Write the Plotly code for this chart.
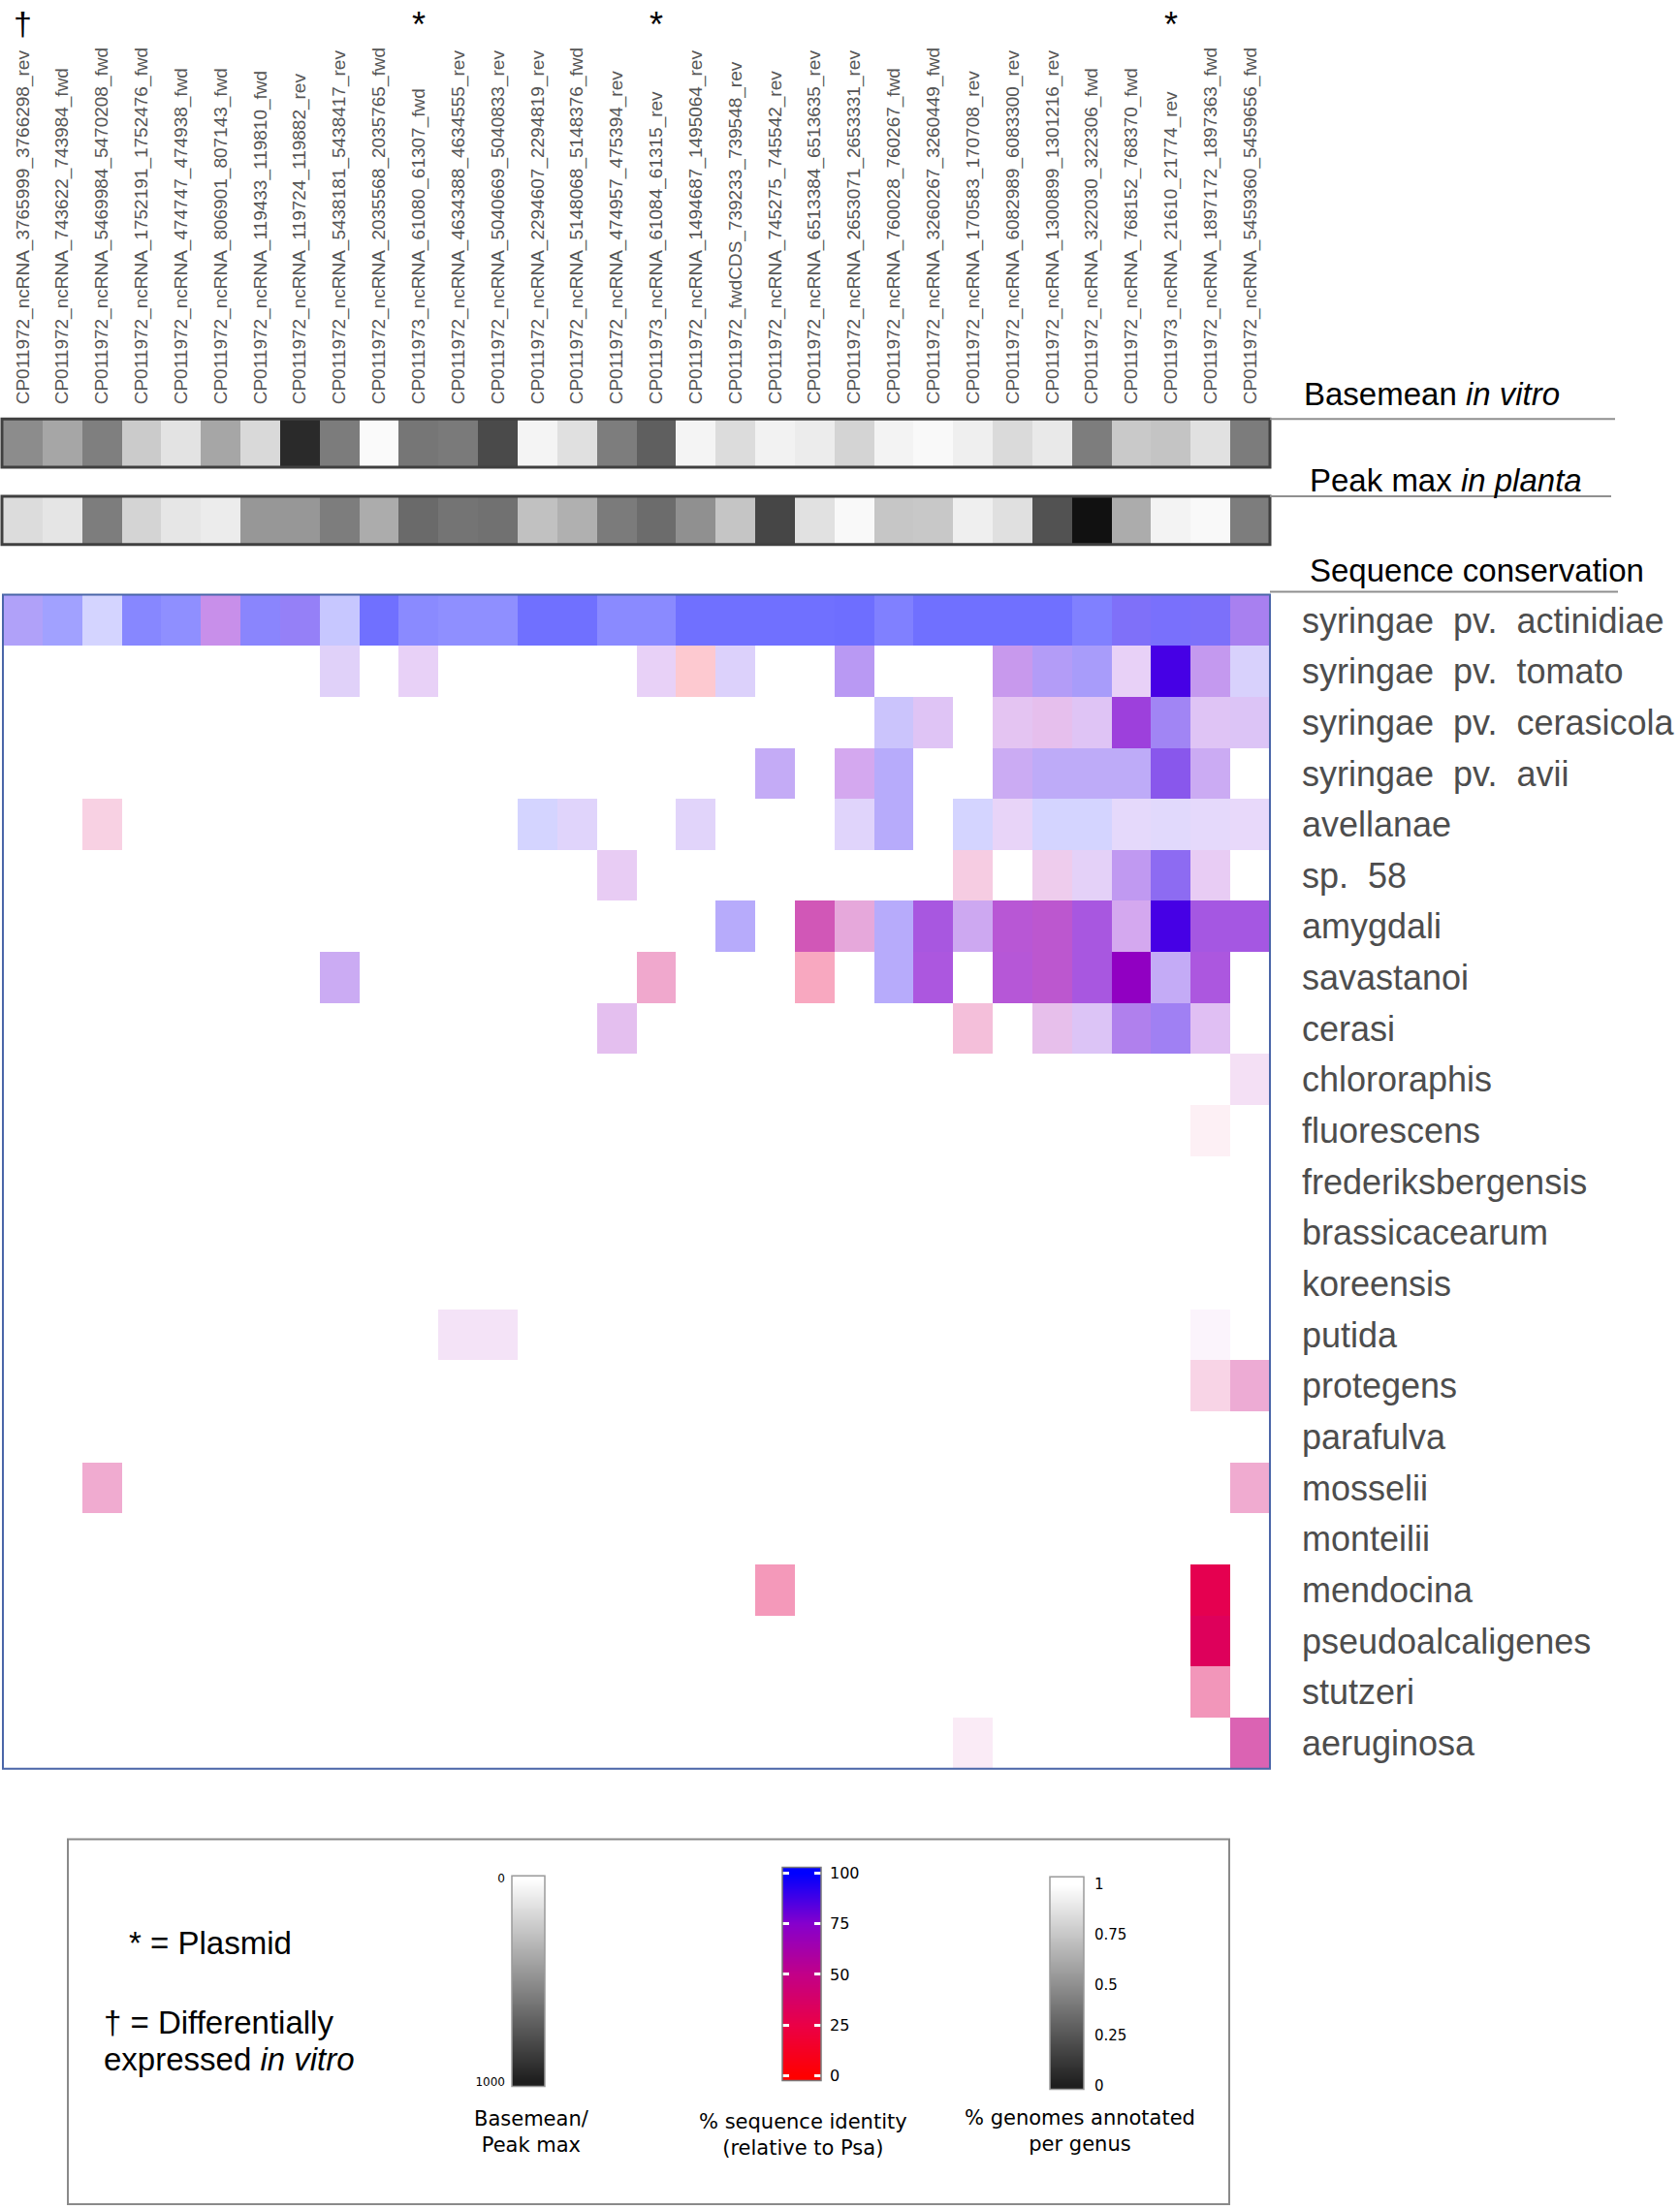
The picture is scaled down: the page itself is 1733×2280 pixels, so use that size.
import plotly.graph_objects as go

W, H = 1733, 2280


def X(px):
    return px / W


def Y(py):
    return 1 - py / H


# ---------------- data ----------------
columns = [
    "CP011972_ncRNA_3765999_3766298_rev", "CP011972_ncRNA_743622_743984_fwd",
    "CP011972_ncRNA_5469984_5470208_fwd", "CP011972_ncRNA_1752191_1752476_fwd",
    "CP011972_ncRNA_474747_474938_fwd", "CP011972_ncRNA_806901_807143_fwd",
    "CP011972_ncRNA_119433_119810_fwd", "CP011972_ncRNA_119724_119882_rev",
    "CP011972_ncRNA_5438181_5438417_rev", "CP011972_ncRNA_2035568_2035765_fwd",
    "CP011973_ncRNA_61080_61307_fwd", "CP011972_ncRNA_4634388_4634555_rev",
    "CP011972_ncRNA_5040669_5040833_rev", "CP011972_ncRNA_2294607_2294819_rev",
    "CP011972_ncRNA_5148068_5148376_fwd", "CP011972_ncRNA_474957_475394_rev",
    "CP011973_ncRNA_61084_61315_rev", "CP011972_ncRNA_1494687_1495064_rev",
    "CP011972_fwdCDS_739233_739548_rev", "CP011972_ncRNA_745275_745542_rev",
    "CP011972_ncRNA_6513384_6513635_rev", "CP011972_ncRNA_2653071_2653331_rev",
    "CP011972_ncRNA_760028_760267_fwd", "CP011972_ncRNA_3260267_3260449_fwd",
    "CP011972_ncRNA_170583_170708_rev", "CP011972_ncRNA_6082989_6083300_rev",
    "CP011972_ncRNA_1300899_1301216_rev", "CP011972_ncRNA_322030_322306_fwd",
    "CP011972_ncRNA_768152_768370_fwd", "CP011973_ncRNA_21610_21774_rev",
    "CP011972_ncRNA_1897172_1897363_fwd", "CP011972_ncRNA_5459360_5459656_fwd",
]
plasmid_cols = [10, 16, 29]
diff_expressed_cols = [0]

sp2 = "\u00a0\u00a0"
species = [
    f"syringae{sp2}pv.{sp2}actinidiae", f"syringae{sp2}pv.{sp2}tomato",
    f"syringae{sp2}pv.{sp2}cerasicola", f"syringae{sp2}pv.{sp2}avii",
    "avellanae", f"sp.{sp2}58", "amygdali", "savastanoi", "cerasi",
    "chlororaphis", "fluorescens", "frederiksbergensis", "brassicacearum",
    "koreensis", "putida", "protegens", "parafulva", "mosselii", "monteilii",
    "mendocina", "pseudoalcaligenes", "stutzeri", "aeruginosa",
]

basemean_in_vitro = [451, 349, 502, 204, 110, 349, 149, 835, 514, 20, 537, 522, 710, 43, 122, 510,
                     627, 43, 137, 51, 75, 169, 47, 24, 63, 145, 86, 510, 212, 231, 118, 514]
peak_max_in_planta = [137, 102, 510, 169, 98, 75, 408, 408, 510, 325, 584, 545, 557, 243, 310, 518,
                      576, 435, 227, 725, 118, 24, 224, 216, 63, 122, 678, 933, 325, 47, 24, 510]

N = None
# % sequence identity (relative to Psa); None = not annotated
identity = [
    [92, 100, 100, 100, 100, 76, 98, 92, 100, 100, 100, 100, 100, 100, 100, 100, 100, 100, 100, 100, 100, 100, 100, 100, 100, 100, 100, 100, 95, 97, 96, 85],
    [N, N, N, N, N, N, N, N, 84, N, 76, N, N, N, N, N, 76, 12, 88, N, N, 85, N, N, N, 78, 89, 94, 76, 87, 80, 92],
    [N, N, N, N, N, N, N, N, N, N, N, N, N, N, N, N, N, N, N, N, N, N, 94, 78, N, 73, 67, 78, 77, 89, 78, 81],
    [N, N, N, N, N, N, N, N, N, N, N, N, N, N, N, N, N, N, N, 86, N, 76, 93, N, N, 82, 89, 89, 89, 86, 82, N],
    [N, N, 36, N, N, N, N, N, N, N, N, N, N, 100, 87, N, N, 85, N, N, N, 87, 93, N, 100, 78, 100, 100, 85, 90, 85, 81],
    [N, N, N, N, N, N, N, N, N, N, N, N, N, N, N, 73, N, N, N, N, N, N, N, N, 41, N, 60, 80, 82, 89, 73, N],
    [N, N, N, N, N, N, N, N, N, N, N, N, N, N, N, N, N, N, 93, N, 54, 55, 93, 77, 80, 70, 67, 77, 76, 87, 78, 78],
    [N, N, N, N, N, N, N, N, 82, N, N, N, N, N, N, N, 40, N, N, N, 25, N, 93, 76, N, 71, 67, 77, 71, 86, 76, N],
    [N, N, N, N, N, N, N, N, N, N, N, N, N, N, N, 70, N, N, N, N, N, N, N, N, 40, N, 64, 81, 82, 88, 76, N],
    [N, N, N, N, N, N, N, N, N, N, N, N, N, N, N, N, N, N, N, N, N, N, N, N, N, N, N, N, N, N, N, 63],
    [N, N, N, N, N, N, N, N, N, N, N, N, N, N, N, N, N, N, N, N, N, N, N, N, N, N, N, N, N, N, 34, N],
    [N] * 32,
    [N] * 32,
    [N] * 32,
    [N, N, N, N, N, N, N, N, N, N, N, 68, 68, N, N, N, N, N, N, N, N, N, N, N, N, N, N, N, N, N, 63, N],
    [N, N, N, N, N, N, N, N, N, N, N, N, N, N, N, N, N, N, N, N, N, N, N, N, N, N, N, N, N, N, 39, 46],
    [N] * 32,
    [N, N, 41, N, N, N, N, N, N, N, N, N, N, N, N, N, N, N, N, N, N, N, N, N, N, N, N, N, N, N, N, 41],
    [N] * 32,
    [N, N, N, N, N, N, N, N, N, N, N, N, N, N, N, N, N, N, N, 30, N, N, N, N, N, N, N, N, N, N, 29, N],
    [N, N, N, N, N, N, N, N, N, N, N, N, N, N, N, N, N, N, N, N, N, N, N, N, N, N, N, N, N, N, 33, N],
    [N, N, N, N, N, N, N, N, N, N, N, N, N, N, N, N, N, N, N, N, N, N, N, N, N, N, N, N, N, N, 32, N],
    [N, N, N, N, N, N, N, N, N, N, N, N, N, N, N, N, N, N, N, N, N, N, N, N, 50, N, N, N, N, N, N, 49],
]
# fraction of genomes annotated per genus (cell opacity)
fraction = [
    [.37, .37, .17, .47, .44, .44, .48, .50, .22, .56, .46, .44, .44, .56, .56, .46, .46, .56, .56, .56, .56, .57, .50, .56, .56, .56, .56, .50, .56, .56, .56, .50],
    [N, N, N, N, N, N, N, N, .18, N, .18, N, N, N, N, N, .18, .21, .18, N, N, .40, N, N, N, .40, .39, .39, .18, 1.0, .40, .18],
    [N, N, N, N, N, N, N, N, N, N, N, N, N, N, N, N, N, N, N, N, N, N, .23, .23, N, .23, .25, .23, .75, .48, .23, .23],
    [N, N, N, N, N, N, N, N, N, N, N, N, N, N, N, N, N, N, N, .33, N, .34, .33, N, N, .33, .33, .33, .33, .66, .33, N],
    [N, N, .18, N, N, N, N, N, N, N, N, N, N, .17, .17, N, N, .17, N, N, N, .17, .33, N, .17, .17, .17, .17, .15, .15, .15, .15],
    [N, N, N, N, N, N, N, N, N, N, N, N, N, N, N, .20, N, N, N, N, N, N, N, N, .20, N, .20, .18, .40, .58, .20, N],
    [N, N, N, N, N, N, N, N, N, N, N, N, N, N, N, N, N, N, .33, N, .66, .34, .33, .66, .34, .66, .66, .66, .34, 1.0, .66, .66],
    [N, N, N, N, N, N, N, N, .33, N, N, N, N, N, N, N, .34, N, N, N, .34, N, .33, .66, N, .66, .66, .66, 1.0, .33, .66, N],
    [N, N, N, N, N, N, N, N, N, N, N, N, N, N, N, .25, N, N, N, N, N, N, N, N, .25, N, .25, .23, .50, .50, .25, N],
    [N, N, N, N, N, N, N, N, N, N, N, N, N, N, N, N, N, N, N, N, N, N, N, N, N, N, N, N, N, N, N, .12],
    [N, N, N, N, N, N, N, N, N, N, N, N, N, N, N, N, N, N, N, N, N, N, N, N, N, N, N, N, N, N, .06, N],
    [N] * 32,
    [N] * 32,
    [N] * 32,
    [N, N, N, N, N, N, N, N, N, N, N, .11, .11, N, N, N, N, N, N, N, N, N, N, N, N, N, N, N, N, N, .045, N],
    [N, N, N, N, N, N, N, N, N, N, N, N, N, N, N, N, N, N, N, N, N, N, N, N, N, N, N, N, N, N, .17, .33],
    [N] * 32,
    [N, N, .33, N, N, N, N, N, N, N, N, N, N, N, N, N, N, N, N, N, N, N, N, N, N, N, N, N, N, N, N, .33],
    [N] * 32,
    [N, N, N, N, N, N, N, N, N, N, N, N, N, N, N, N, N, N, N, .40, N, N, N, N, N, N, N, N, N, N, 1.0, N],
    [N, N, N, N, N, N, N, N, N, N, N, N, N, N, N, N, N, N, N, N, N, N, N, N, N, N, N, N, N, N, 1.0, N],
    [N, N, N, N, N, N, N, N, N, N, N, N, N, N, N, N, N, N, N, N, N, N, N, N, N, N, N, N, N, N, .41, N],
    [N, N, N, N, N, N, N, N, N, N, N, N, N, N, N, N, N, N, N, N, N, N, N, N, .08, N, N, N, N, N, N, .61],
]

# legend keys (tick values of the colour keys)
expr_key = [0, 250, 500, 750, 1000]
identity_key = [0, 25, 50, 75, 100]
fraction_key = [0, 0.25, 0.5, 0.75, 1]
fraction_key_labels = ["0", "0.25", "0.5", "0.75", "1"]

# ---------------- styles ----------------
grey_scale = [[0, "#ffffff"], [1, "#000000"]]
key_grey_scale = [[0, "#ffffff"], [1, "#1e1e1e"]]
identity_scale = [[0, "rgb(255,0,0)"], [0.25, "rgb(235,0,70)"], [0.5, "rgb(195,0,135)"],
                  [0.75, "rgb(135,0,205)"], [1, "rgb(0,0,255)"]]
veil_scale = [[0, "rgba(255,255,255,1)"], [1, "rgba(255,255,255,0)"]]
fraction_key_scale = [[0, "#1e1e1e"], [1, "#ffffff"]]

SANS = "Liberation Sans, Arial, sans-serif"
DJV = "DejaVu Sans, sans-serif"

ncol = len(columns)
nrow = len(species)
xs = list(range(ncol))
ys = list(range(nrow))

fig = go.Figure()

# main identity heatmap + opacity veil
fig.add_trace(go.Heatmap(z=identity, x=xs, y=ys, colorscale=identity_scale, zmin=0, zmax=100,
                         showscale=False, xaxis="x", yaxis="y", hoverongaps=False))
fig.add_trace(go.Heatmap(z=fraction, x=xs, y=ys, colorscale=veil_scale, zmin=0, zmax=1,
                         showscale=False, xaxis="x", yaxis="y", hoverongaps=False))
# expression bars
fig.add_trace(go.Heatmap(z=[basemean_in_vitro], x=xs, y=[0], colorscale=grey_scale, zmin=0, zmax=1000,
                         showscale=False, xaxis="x2", yaxis="y2"))
fig.add_trace(go.Heatmap(z=[peak_max_in_planta], x=xs, y=[0], colorscale=grey_scale, zmin=0, zmax=1000,
                         showscale=False, xaxis="x3", yaxis="y3"))
# legend colour keys
fig.add_trace(go.Heatmap(z=[[v, v] for v in expr_key], x=[0, 1], y=expr_key, colorscale=key_grey_scale,
                         zmin=0, zmax=1000, zsmooth="best", showscale=False, xaxis="x4", yaxis="y4"))
fig.add_trace(go.Heatmap(z=[[v, v] for v in identity_key], x=[0, 1], y=identity_key,
                         colorscale=identity_scale, zmin=0, zmax=100, zsmooth="best", showscale=False,
                         xaxis="x5", yaxis="y5"))
fig.add_trace(go.Heatmap(z=[[v, v] for v in fraction_key], x=[0, 1], y=fraction_key,
                         colorscale=fraction_key_scale, zmin=0, zmax=1, zsmooth="best", showscale=False,
                         xaxis="x6", yaxis="y6"))

hidden = dict(visible=False, showgrid=False, zeroline=False, fixedrange=True)
xdom = [X(3), X(1310)]

layout_axes = dict(
    xaxis=dict(domain=xdom, range=[-0.5, ncol - 0.5], anchor="y", **hidden),
    yaxis=dict(domain=[Y(1828), Y(612)], range=[nrow - 0.5, -0.5], anchor="x", side="right",
               tickmode="array", tickvals=ys, ticktext=species, ticks="", showgrid=False,
               zeroline=False, showline=False, ticklabelstandoff=32,
               tickfont=dict(family=SANS, size=36, color="#4d4d4d")),
    xaxis2=dict(domain=xdom, range=[-0.5, ncol - 0.5], anchor="y2", side="top",
                tickmode="array", tickvals=xs, ticktext=columns, tickangle=-90, ticks="",
                showgrid=False, zeroline=False, showline=False, ticklabelstandoff=14,
                tickfont=dict(family=SANS, size=19, color="#555555")),
    yaxis2=dict(domain=[Y(480), Y(430)], range=[-0.5, 0.5], anchor="x2", **hidden),
    xaxis3=dict(domain=xdom, range=[-0.5, ncol - 0.5], anchor="y3", **hidden),
    yaxis3=dict(domain=[Y(560), Y(510)], range=[-0.5, 0.5], anchor="x3", **hidden),
    xaxis4=dict(domain=[X(528), X(562)], range=[-0.5, 1.5], anchor="y4", **hidden),
    yaxis4=dict(domain=[Y(2157), Y(1939)], range=[1024, -14], anchor="x4", side="left",
                tickmode="array", tickvals=[0, 1000], ticktext=["0", "1000"], ticks="",
                showgrid=False, zeroline=False, ticklabelstandoff=6,
                tickfont=dict(family=DJV, size=12, color="black")),
    xaxis5=dict(domain=[X(807), X(847)], range=[-0.5, 1.5], anchor="y5", **hidden),
    yaxis5=dict(domain=[Y(2151), Y(1930)], range=[-2.4, 102.9], anchor="x5", side="right",
                tickmode="array", tickvals=identity_key, ticks="inside", ticklen=7, tickwidth=3,
                tickcolor="white", mirror="ticks", showgrid=False, zeroline=False,
                ticklabelstandoff=8, tickfont=dict(family=DJV, size=16, color="black")),
    xaxis6=dict(domain=[X(1083), X(1118)], range=[-0.5, 1.5], anchor="y6", **hidden),
    yaxis6=dict(domain=[Y(2160), Y(1940)], range=[-0.019, 1.038], anchor="x6", side="right",
                tickmode="array", tickvals=fraction_key, ticktext=fraction_key_labels, ticks="",
                showgrid=False, zeroline=False, ticklabelstandoff=10,
                tickfont=dict(family=DJV, size=15, color="black")),
)


def rect(x0, y0, x1, y1, color, width):
    return dict(type="rect", xref="paper", yref="paper", x0=X(x0), x1=X(x1), y0=Y(y0), y1=Y(y1),
                line=dict(color=color, width=width), fillcolor="rgba(0,0,0,0)", layer="above")


def hline(x0, x1, y, color="#8f8f8f", width=2):
    return dict(type="line", xref="paper", yref="paper", x0=X(x0), x1=X(x1), y0=Y(y), y1=Y(y),
                line=dict(color=color, width=width), layer="above")


shapes = [
    rect(3, 612, 1310, 1828, "#4a66a8", 2),
    rect(2, 430, 1310, 480, "#404040", 3),
    rect(2, 510, 1310, 560, "#404040", 3),
    hline(1310, 1666, 430),
    hline(1310, 1662, 510),
    hline(1310, 1669, 609),
    rect(70, 1901, 1268, 2279, "#8a8a8a", 2),
    rect(528, 1939, 562, 2157, "#9a9a9a", 1.5),
    rect(807, 1930, 847, 2151, "#7a7a7a", 1.5),
    rect(1083, 1940, 1118, 2160, "#9a9a9a", 1.5),
]


def ann(text, x, y, size, family=SANS, color="black", xanchor="left", yanchor="middle", align="left"):
    return dict(text=text, x=X(x), y=Y(y), xref="paper", yref="paper", showarrow=False,
                font=dict(size=size, family=family, color=color), xanchor=xanchor,
                yanchor=yanchor, align=align)


annotations = []
for c in diff_expressed_cols:
    annotations.append(dict(text="\u2020", x=c, xref="x", y=1, yref="paper", showarrow=False,
                            font=dict(size=34, family=SANS, color="black"), xanchor="center",
                            yanchor="top", borderpad=0))
for c in plasmid_cols:
    annotations.append(dict(text="*", x=c, xref="x", y=1, yref="paper", showarrow=False,
                            font=dict(size=36, family=SANS, color="black"), xanchor="center",
                            yanchor="top", borderpad=0))

annotations += [
    ann("Basemean <i>in vitro</i>", 1343, 404, 33),
    ann("Peak max <i>in planta</i>", 1349, 493, 33),
    ann("Sequence conservation", 1349, 587, 33),
    ann("* = Plasmid", 131, 2008, 33),
    ann("\u2020 = Differentially", 105, 2091, 33),
    ann("expressed <i>in vitro</i>", 105, 2129, 33),
    ann("Basemean/<br>Peak max", 548, 2204, 21, family=DJV, xanchor="center", align="center"),
    ann("% sequence identity<br>(relative to Psa)", 828, 2207, 21, family=DJV, xanchor="center",
        align="center"),
    ann("% genomes annotated<br>per genus", 1114, 2203, 21, family=DJV, xanchor="center",
        align="center"),
]

fig.update_layout(
    width=W, height=H, margin=dict(l=0, r=0, t=0, b=0), autosize=False,
    paper_bgcolor="white", plot_bgcolor="white", showlegend=False,
    shapes=shapes, annotations=annotations, **layout_axes,
)

fig.write_html("out.html", config={"displayModeBar": False},
               post_script="document.body.style.margin='0';")
